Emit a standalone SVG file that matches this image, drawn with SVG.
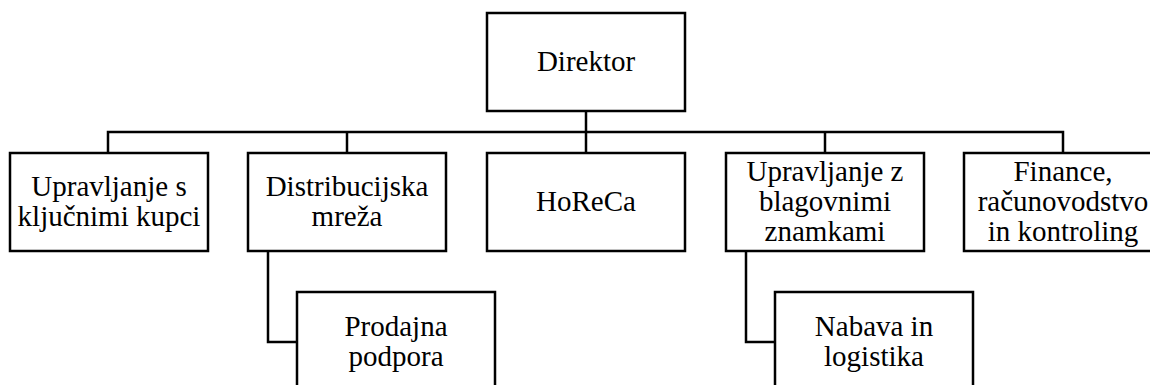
<svg xmlns="http://www.w3.org/2000/svg" width="1150" height="385" viewBox="0 0 1150 385">
<style>
rect.box{fill:#fff;stroke:#000;stroke-width:2.5}
.conn path{fill:none;stroke:#000;stroke-width:2.5}
.lbl text{font-family:'Liberation Serif','Times New Roman',serif;font-size:29px;text-anchor:middle;fill:#000}
</style>
<rect width="1150" height="385" fill="#fff"/>
<g class="conn" id="connectors">
<path d="M586,111 V153"/>
<path d="M108,153 V132 H1063 V153"/>
<path d="M347,132 V153"/>
<path d="M825,132 V153"/>
<path d="M268,251 V342 H297"/>
<path d="M746,251 V342 H775"/>
</g>
<g class="lbl">
<g id="direktor"><rect class="box" x="487" y="13" width="198" height="98"/><text x="586" y="71">Direktor</text></g>
<g id="kupci"><rect class="box" x="10" y="153" width="198" height="98"/><text x="109" y="196">Upravljanje s</text><text x="109" y="226">ključnimi kupci</text></g>
<g id="distribucija"><rect class="box" x="248" y="153" width="198" height="98"/><text x="347" y="196">Distribucijska</text><text x="347" y="226">mreža</text></g>
<g id="horeca"><rect class="box" x="487" y="153" width="198" height="98"/><text x="586" y="211">HoReCa</text></g>
<g id="znamke"><rect class="box" x="726" y="153" width="198" height="98"/><text x="825" y="181">Upravljanje z</text><text x="825" y="211">blagovnimi</text><text x="825" y="241">znamkami</text></g>
<g id="finance"><rect class="box" x="964" y="153" width="198" height="98"/><text x="1063" y="181">Finance,</text><text x="1063" y="211">računovodstvo</text><text x="1063" y="241">in kontroling</text></g>
<g id="prodajna"><rect class="box" x="297" y="292" width="198" height="98"/><text x="396" y="336">Prodajna</text><text x="396" y="366">podpora</text></g>
<g id="nabava"><rect class="box" x="775" y="292" width="198" height="98"/><text x="874" y="336">Nabava in</text><text x="874" y="366">logistika</text></g>
</g>
</svg>
